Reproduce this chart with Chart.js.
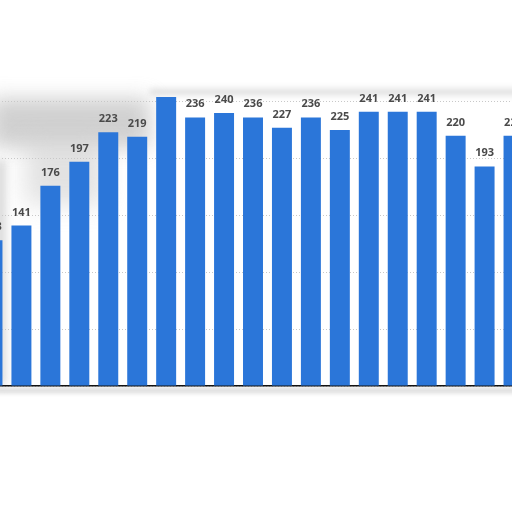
<!DOCTYPE html>
<html><head><meta charset="utf-8">
<script src="https://cdn.jsdelivr.net/npm/chart.js@4/dist/chart.umd.min.js"></script>
<style>
html,body{margin:0;padding:0;width:512px;height:512px;overflow:hidden;background:#fff;}
body{position:relative;}
.smudge{position:absolute;}
#c{position:absolute;left:0;top:0;}
</style></head><body>
<div class="smudge" style="left:-10px;top:98px;width:160px;height:50px;background:#bdbdbd;filter:blur(10px);opacity:.7"></div>
<div class="smudge" style="left:25px;top:140px;width:80px;height:65px;background:#cfcfcf;filter:blur(12px);opacity:.6"></div>
<div class="smudge" style="left:150px;top:89px;width:380px;height:6px;background:#d4d4d4;filter:blur(3px);opacity:.8"></div>
<div class="smudge" style="left:-6px;top:160px;width:12px;height:225px;background:#cccccc;filter:blur(4px);opacity:.7"></div>
<div class="smudge" style="left:-5px;top:388px;width:530px;height:5px;background:#dadada;filter:blur(2px)"></div>
<canvas id="c" width="600" height="420"></canvas>
<script>
const categories = ['2003','2004','2005','2006','2007','2008','2009','2010','2011','2012','2013','2014','2015','2016','2017','2018','2019','2020','2021'];
const values = [128,141,176,197,223,219,254,236,240,236,227,236,225,241,241,241,220,193,220];
const yTicks = [0,50,100,150,200,250];
const Y_MAX = 254;
const BAR_COLOR = '#2b76d9';

const labelPlugin = {
  id: 'valueLabels',
  afterDatasetsDraw(chart) {
    const ctx = chart.ctx;
    const meta = chart.getDatasetMeta(0);
    ctx.save();
    ctx.font = 'bold 11px "Open Sans", "DejaVu Sans", sans-serif';
    ctx.fillStyle = '#4a4a4a';
    ctx.textAlign = 'center';
    ctx.textBaseline = 'alphabetic';
    meta.data.forEach((bar, i) => {
      if (values[i] >= Y_MAX) return;
      ctx.fillText(String(values[i]), bar.x, bar.y - 10);
    });
    ctx.restore();
  }
};

const canvas = document.getElementById('c');
function build() {
  return new Chart(canvas, {
    type: 'bar',
    data: {
      labels: categories,
      datasets: [{ data: values, backgroundColor: BAR_COLOR, borderWidth: 0,
        categoryPercentage: 1, barPercentage: 0.69 }]
    },
    options: {
      responsive: false,
      maintainAspectRatio: false,
      animation: false,
      devicePixelRatio: 1,
      layout: { padding: { top: 30, left: 0, right: 0, bottom: 0 } },
      plugins: { legend: { display: false }, tooltip: { enabled: false } },
      scales: {
        x: {
          grid: { display: false },
          ticks: { display: false },
          border: { display: true, color: '#111', width: 1.5 }
        },
        y: {
          min: 0, max: Y_MAX,
          afterBuildTicks: (s) => { s.ticks = yTicks.map(v => ({ value: v })); },
          grid: { color: '#c8c8c8', lineWidth: 1, drawTicks: false },
          border: { display: false, dash: [1, 2] },
          ticks: { display: false }
        }
      }
    },
    plugins: [labelPlugin]
  });
}

// size the canvas so the plot area matches the reference framing
const W = 19 * 28.95, H = 386 - 97;
let chart = build();
let ca = chart.chartArea;
const extraW = canvas.width - (ca.right - ca.left);
const extraH = canvas.height - (ca.bottom - ca.top);
chart.destroy();
canvas.width = Math.round(W + extraW);
canvas.height = Math.round(H + extraH);
canvas.style.width = canvas.width + 'px';
canvas.style.height = canvas.height + 'px';
chart = build();
ca = chart.chartArea;
canvas.style.left = (-22.4 - ca.left) + 'px';
canvas.style.top = (97 - ca.top) + 'px';
</script>
</body></html>
